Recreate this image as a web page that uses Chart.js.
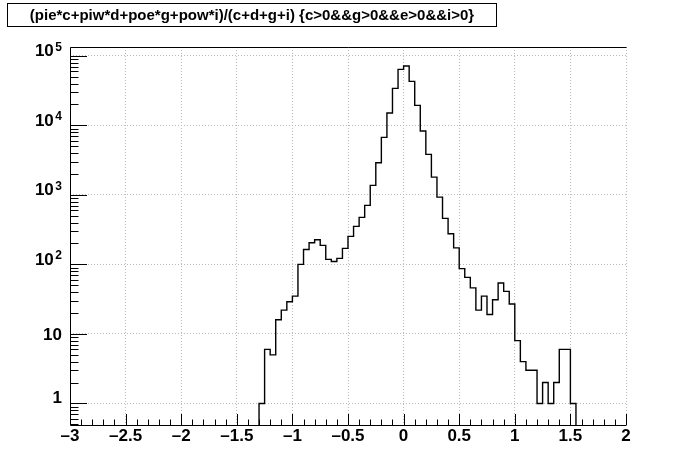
<!DOCTYPE html>
<html>
<head>
<meta charset="utf-8">
<script src="https://cdn.jsdelivr.net/npm/chart.js@4.4.1/dist/chart.umd.min.js"></script>
<style>
  body { margin: 0; background: #fff; }
  #wrap { width: 696px; height: 472px; }
</style>
</head>
<body>
<div id="wrap"><canvas id="histo" width="696" height="472"></canvas></div>
<script>
const TITLE = '(pie*c+piw*d+poe*g+pow*i)/(c+d+g+i) {c>0&&g>0&&e>0&&i>0}';

// histogram binning: 100 bins of 0.05 from -3 to 2
const X_MIN = -3;
const X_MAX = 2;
const BIN_WIDTH = 0.05;

// entries per bin
const counts = [
  0, 0, 0, 0, 0, 0, 0, 0, 0, 0,
  0, 0, 0, 0, 0, 0, 0, 0, 0, 0,
  0, 0, 0, 0, 0, 0, 0, 0, 0, 0,
  0, 0, 0, 0,
  1, 6, 5, 16, 22, 29, 35, 100, 164, 205,
  226, 188, 118, 110, 122, 170, 253, 352, 475, 706,
  1370, 2900, 6720, 15030, 34050, 63940, 71300, 42960, 19400, 8280,
  3828, 1803, 929, 459, 276, 173, 87, 65, 46, 22,
  35, 19, 31, 54, 41, 27, 8, 4, 3, 3,
  1, 2, 1, 2, 6, 6, 1,
  0, 0, 0, 0, 0, 0, 0, 0, 0
];

const xTickValues = [-3, -2.5, -2, -1.5, -1, -0.5, 0, 0.5, 1, 1.5, 2];
const yDecades = [1, 10, 100, 1000, 10000, 100000];
const Y_MIN = 0.49;
const Y_MAX = 1.34e5;

const FONT = '"Liberation Sans", Arial, Helvetica, sans-serif';

// build step points at bin left edges, empty bins pushed below the log axis
const points = counts.map((c, i) => ({
  x: +(X_MIN + i * BIN_WIDTH).toFixed(4),
  y: c > 0 ? c : 1e-2
}));
points.push({ x: X_MAX, y: points[points.length - 1].y });

function fmtX(v) {
  const s = String(Math.abs(v));
  return v < 0 ? '\u2013' + s : s;
}

const rootLook = {
  id: 'rootLook',
  afterDraw(chart) {
    const ctx = chart.ctx;
    const a = chart.chartArea;
    const xs = chart.scales.x;
    const ys = chart.scales.y;
    ctx.save();

    // frame: left, bottom, top
    ctx.strokeStyle = '#000';
    ctx.lineWidth = 1;
    ctx.beginPath();
    ctx.moveTo(a.left + 0.5, a.top + 0.5);
    ctx.lineTo(a.left + 0.5, a.bottom + 0.5);
    ctx.lineTo(a.right + 0.5, a.bottom + 0.5);
    ctx.moveTo(a.left + 0.5, a.top + 0.5);
    ctx.lineTo(a.right + 0.5, a.top + 0.5);
    ctx.stroke();

    // x ticks (inside), minor every 0.1
    ctx.beginPath();
    for (let k = 0; k <= 50; k++) {
      const v = X_MIN + k * 0.1;
      const px = Math.round(xs.getPixelForValue(v)) + 0.5;
      const len = k % 5 === 0 ? 11 : 5.5;
      ctx.moveTo(px, a.bottom);
      ctx.lineTo(px, a.bottom - len);
    }
    // y ticks (inside), log minor 2..9
    for (let e = -1; e <= 5; e++) {
      for (let m = 1; m <= 9; m++) {
        const v = m * Math.pow(10, e);
        if (v < Y_MIN || v > Y_MAX) continue;
        const py = Math.round(ys.getPixelForValue(v)) + 0.5;
        const len = m === 1 ? 17 : 8.5;
        ctx.moveTo(a.left, py);
        ctx.lineTo(a.left + len, py);
      }
    }
    ctx.stroke();

    // y labels with exponents
    ctx.fillStyle = '#000';
    ctx.textAlign = 'right';
    ctx.textBaseline = 'alphabetic';
    const rx = a.left - 8;
    yDecades.forEach(v => {
      const n = Math.round(Math.log10(v));
      const py = ys.getPixelForValue(v);
      if (n >= 2) {
        ctx.font = 'bold 12px ' + FONT;
        ctx.fillText(String(n), rx, py - 5);
        const w = ctx.measureText(String(n)).width;
        ctx.font = 'bold 17px ' + FONT;
        ctx.fillText('10', rx - w - 1.5, py + 0.5);
      } else {
        ctx.font = 'bold 17px ' + FONT;
        ctx.fillText(String(v), rx, n === 1 ? py + 6 : py);
      }
    });

    // title box
    ctx.fillStyle = '#fff';
    ctx.fillRect(7, 3, 490, 24);
    ctx.strokeStyle = '#000';
    ctx.strokeRect(7.5, 3.5, 489, 23);
    ctx.fillStyle = '#000';
    ctx.font = 'bold 15px ' + FONT;
    ctx.textAlign = 'center';
    ctx.textBaseline = 'middle';
    ctx.fillText(TITLE, 252, 16);

    ctx.restore();
  }
};

new Chart(document.getElementById('histo'), {
  type: 'line',
  data: {
    datasets: [{
      data: points,
      stepped: true,
      borderColor: '#000',
      borderWidth: 1.4,
      pointRadius: 0,
      fill: false
    }]
  },
  options: {
    responsive: false,
    animation: false,
    events: [],
    layout: { padding: { top: 47, right: 70, left: 0, bottom: 0 } },
    plugins: { legend: { display: false }, tooltip: { enabled: false }, title: { display: false } },
    scales: {
      x: {
        type: 'linear',
        min: X_MIN,
        max: X_MAX,
        afterBuildTicks: s => { s.ticks = xTickValues.map(v => ({ value: v })); },
        afterFit: s => { s.height = 47; },
        grid: { color: '#b8b8b8', lineWidth: 1, drawTicks: false },
        border: { display: false, dash: [1, 2] },
        ticks: {
          padding: 1,
          maxRotation: 0,
          autoSkip: false,
          color: '#000',
          font: { family: FONT, size: 17, weight: 'bold' },
          callback: v => fmtX(v)
        }
      },
      y: {
        type: 'logarithmic',
        min: Y_MIN,
        max: Y_MAX,
        afterBuildTicks: s => { s.ticks = yDecades.map(v => ({ value: v })); },
        afterFit: s => { s.width = 70; },
        grid: { color: '#b8b8b8', lineWidth: 1, drawTicks: false },
        border: { display: false, dash: [1, 2] },
        ticks: { display: false }
      }
    }
  },
  plugins: [rootLook]
});
</script>
</body>
</html>
